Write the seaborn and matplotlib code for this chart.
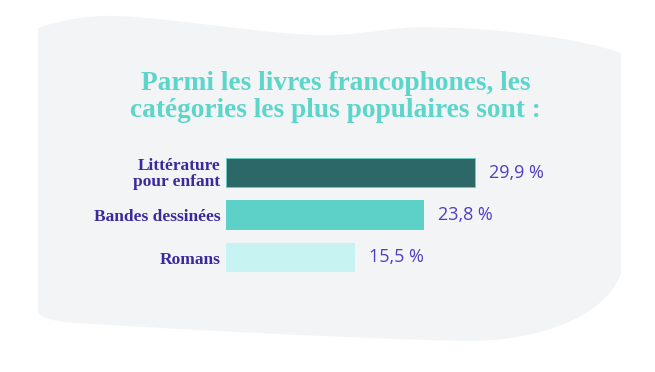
import matplotlib
matplotlib.use("Agg")
import matplotlib.pyplot as plt
import seaborn as sns
import pandas as pd
from matplotlib.path import Path
from matplotlib.patches import PathPatch

# Data
categories = ["Littérature\npour enfant", "Bandes dessinées", "Romans"]
values = [29.9, 23.8, 15.5]
value_labels = ["29,9 %", "23,8 %", "15,5 %"]
bar_colors = ["#2b6867", "#5dd0c8", "#c8f3f3"]
title = "Parmi les livres francophones, les\ncatégories les plus populaires sont :"

df = pd.DataFrame({"categorie": categories, "pourcentage": values})

sns.set_theme(style="white")

W, H = 655, 372
fig = plt.figure(figsize=(W / 100, H / 100), dpi=100)
fig.patch.set_facecolor("white")


def px(x, y):
    return (x / W, 1 - y / H)


# wavy grey card behind the chart
verts = [
    px(38, 28),
    px(60, 20), px(90, 15), px(114, 16),
    px(180, 18), px(270, 36), px(330, 35),
    px(370, 34), px(390, 27), px(423, 27),
    px(500, 28), px(580, 38), px(621, 53),
    px(621, 273),
    px(605, 320), px(530, 342), px(465, 341),
    px(330, 338), px(120, 326), px(63, 322),
    px(50, 320), px(42, 317), px(38, 313),
    px(38, 28),
]
codes = ([Path.MOVETO] + [Path.CURVE4] * 12 + [Path.LINETO]
         + [Path.CURVE4] * 9 + [Path.CLOSEPOLY])
card = PathPatch(Path(verts, codes), facecolor="#f3f4f6", edgecolor="none",
                 transform=fig.transFigure, zorder=-5)
fig.patches.append(card)

fig.text(0.512, 0.739, title, ha="center", va="center", color="#5cd5cb",
         family="Liberation Serif", weight="bold", fontsize=19.7,
         linespacing=1.12)

ax = fig.add_axes([226 / W, 1 - 278.75 / H, 333.2 / W, 127.5 / H])
ax.set_facecolor("none")
sns.barplot(
    data=df,
    y="categorie",
    x="pourcentage",
    hue="categorie",
    palette=dict(zip(categories, bar_colors)),
    orient="h",
    width=0.7,
    saturation=1,
    legend=False,
    linewidth=0,
    ax=ax,
)
ax.patches[0].set_edgecolor("#6cc9c1")
ax.patches[0].set_linewidth(0.7)

ax.set_xlim(0, 40)
ax.set_ylim(2.5, -0.5)
sns.despine(ax=ax, left=True, bottom=True)
ax.set_xticks([])
ax.set_xlabel("")
ax.set_ylabel("")
ax.tick_params(axis="y", length=0, pad=4)
for lbl in ax.get_yticklabels():
    lbl.set_family("Liberation Serif")
    lbl.set_weight("bold")
    lbl.set_fontsize(12.5)
    lbl.set_color("#3a2a9e")
    lbl.set_linespacing(0.95)

for i, (v, t) in enumerate(zip(values, value_labels)):
    ax.annotate(t, xy=(v, i), xytext=(10, 0), textcoords="offset points",
                ha="left", va="center", fontsize=13, family="Open Sans",
                color="#4e3ec2")

plt.savefig("out.png", dpi=100)
plt.close()
